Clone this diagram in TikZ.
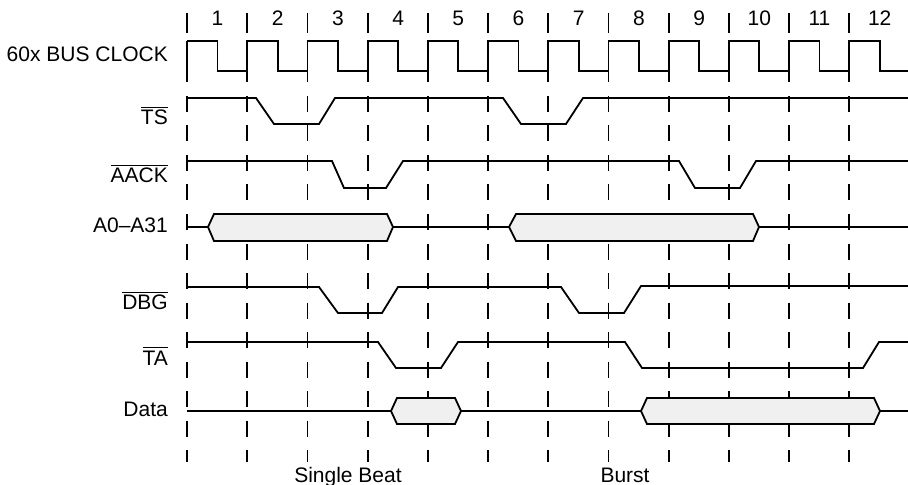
\documentclass[tikz,border=0pt]{standalone}
\usepackage{fontspec}
\setmainfont{Liberation Sans}
\newcommand\ovl[1]{\leavevmode\vbox{\hrule height 1.4pt\kern 2.2pt\hbox{#1}}}
\begin{document}
\begin{tikzpicture}[x=1bp,y=-1bp,
  sig/.style={line width=1.8bp,line join=miter},
  grid/.style={line width=1.8bp,dash pattern=on 16bp off 13.5bp},
  tick/.style={line width=1.8bp},
  bus/.style={sig,fill=black!6},
  lab/.style={anchor=base east,inner sep=0pt,font=\fontsize{21bp}{24bp}\selectfont},
  num/.style={anchor=base,inner sep=0pt,font=\fontsize{21bp}{24bp}\selectfont}]
\useasboundingbox (0,0) rectangle (908,485);
% grid lines
\foreach \i in {0,...,11}{
  \pgfmathsetmacro\xx{187+60.2*\i}
  \draw[tick] (\xx,13) -- (\xx,33);
  \draw[tick] (\xx,41) -- (\xx,82);
  \draw[grid] (\xx,96) -- (\xx,462);
}
% cycle numbers
\foreach \i in {1,...,12}{
  \pgfmathsetmacro\xx{187+60.2*(\i-1)+30.5}
  \node[num] (n\i) at (\xx,26) {\i};
}
% clock
\draw[sig] (187,41)
  \foreach \i in {0,...,11}{
    -- ({187+60.2*\i},41) -- ({187+60.2*\i+30.4},41) -- ({187+60.2*\i+30.4},71) -- ({187+60.2*(\i+1)},71)
    \ifnum\i<11 -- ({187+60.2*(\i+1)},41)\fi
  } -- (908,71);
% TS
\draw[sig] (187,98) -- (256,98) -- (274,124) -- (319,124) -- (335,98) -- (503,98) -- (521,124) -- (566,124) -- (583,98) -- (908,98);
% AACK
\draw[sig] (187,161) -- (332,161) -- (344,188) -- (386,188) -- (403,161) -- (679,161) -- (695,188) -- (740,188) -- (756,161) -- (908,161);
% A0-A31
\draw[sig] (187,227) -- (208,227);
\draw[bus] (208,227) -- (214,214) -- (387,214) -- (393,227) -- (387,241) -- (214,241) -- cycle;
\draw[sig] (393,227) -- (509,227);
\draw[bus] (509,227) -- (516,214) -- (753,214) -- (759,227) -- (753,241) -- (516,241) -- cycle;
\draw[sig] (759,227) -- (908,227);
% DBG
\draw[sig] (187,287) -- (319,287) -- (338,313) -- (382,313) -- (398,287) -- (561,287) -- (579,313) -- (624,313) -- (641,286) -- (908,286);
% TA
\draw[sig] (187,342) -- (378,342) -- (396,368) -- (441,368) -- (458,342) -- (625,342) -- (642,368) -- (863,368) -- (879,342) -- (908,342);
% Data
\draw[sig] (187,411) -- (391,411);
\draw[bus] (391,411) -- (397,398) -- (455,398) -- (461,411) -- (455,424) -- (397,424) -- cycle;
\draw[sig] (461,411) -- (641,411);
\draw[bus] (641,411) -- (647,398) -- (874,398) -- (880,411) -- (874,424) -- (647,424) -- cycle;
\draw[sig] (880,411) -- (908,411);
% labels
\node[lab] (lclk) at (168,62) {60x BUS CLOCK};
\node[lab] (lts) at (168,125) {\ovl{TS}};
\node[lab] (laack) at (168,183) {\ovl{AACK}};
\node[lab] (laddr) at (168,233) {A0–A31};
\node[lab] (ldbg) at (168,310) {\ovl{DBG}};
\node[lab] (lta) at (168,365) {\ovl{TA}};
\node[lab] (ldata) at (168,416) {Data};
\node[num] (single) at (348,482) {Single Beat};
\node[num] (burst) at (625,482) {Burst};
\end{tikzpicture}
\end{document}
